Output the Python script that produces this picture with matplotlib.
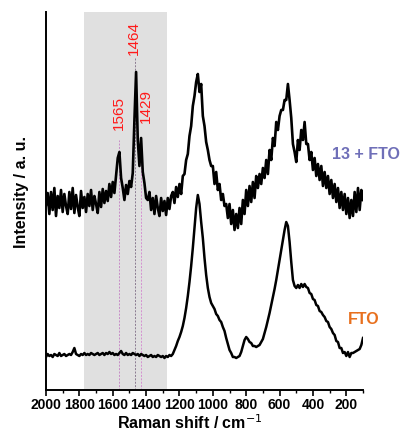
import numpy as np
import matplotlib
matplotlib.use("Agg")
import matplotlib.pyplot as plt

plt.rcParams['font.family'] = ['Liberation Sans', 'DejaVu Sans']

# Raman shift grid, cm-1 (2000 -> 100, step 10)
shift = np.arange(2000, 95, -10)

# 13 + FTO spectrum (arb. units)
sample = [
    185, 197, 176, 198, 180, 202, 174, 194, 182, 200,   # 2000-1910
    178, 196, 184, 176, 198, 181, 202, 177, 195, 183,   # 1900-1810
    174, 199, 182, 193, 178, 196, 184, 200, 180, 194,   # 1800-1710
    186, 177, 198, 183, 201, 187, 199, 189, 206, 193,   # 1700-1610
    208, 197, 215, 232, 238, 212, 202, 190, 205, 196,   # 1600-1510
    209, 203, 217, 270, 318, 250, 224, 252, 218, 207,   # 1500-1410
    192, 190, 198, 180, 192, 176, 194, 182, 174, 192,   # 1400-1310
    179, 189, 175, 192, 181, 194, 198, 187, 203, 193,   # 1300-1210
    206, 196, 214, 216, 230, 236, 254, 264, 284, 294,   # 1200-1110
    308, 316, 298, 306, 274, 264, 248, 240, 230, 224,   # 1100-1010
    224, 206, 218, 200, 206, 190, 196, 184, 186, 172,   # 1000-910
    186, 166, 180, 160, 176, 162, 182, 166, 190, 176,   # 900-810
    200, 184, 204, 188, 208, 192, 214, 202, 216, 206,   # 800-710
    222, 212, 230, 216, 240, 230, 252, 244, 268, 260,   # 700-610
    274, 280, 280, 290, 290, 306, 290, 272, 246, 238,   # 600-510
    228, 250, 240, 260, 250, 268, 246, 246, 230, 238,   # 500-410
    220, 232, 214, 226, 210, 224, 204, 218, 202, 214,   # 400-310
    196, 210, 192, 206, 188, 202, 182, 198, 180, 196,   # 300-210
    176, 192, 172, 190, 174, 198, 178, 202, 180, 200,   # 200-110
    190,                                                # 100
]

# bare FTO spectrum
fto = [
    33, 36, 34, 35, 33, 36, 35, 34, 37, 34,
    35, 36, 34, 35, 36, 35, 38, 42, 36, 35,
    34, 36, 35, 37, 35, 36, 35, 37, 36, 35,
    36, 37, 35, 36, 37, 35, 37, 36, 38, 36,
    37, 35, 36, 35, 37, 39, 36, 35, 37, 35,
    36, 35, 37, 36, 35, 36, 34, 36, 35, 34,
    35, 33, 34, 35, 33, 34, 33, 35, 34, 33,
    34, 32, 34, 33, 35, 34, 36, 40, 44, 49,
    53, 58, 64, 72, 82, 94, 108, 124, 142, 162,
    182, 195, 186, 168, 152, 132, 115, 102, 93, 87,
    84, 81, 76, 74, 70, 68, 63, 59, 52, 46,
    40, 37, 33, 33, 32, 33, 34, 38, 44, 50,
    53, 51, 48, 47, 44, 44, 43, 44, 45, 48,
    51, 57, 63, 70, 77, 85, 93, 101, 110, 120,
    130, 140, 150, 160, 168, 164, 148, 128, 110, 104,
    102, 105, 102, 106, 103, 106, 103, 102, 97, 96,
    91, 90, 85, 84, 79, 78, 75, 73, 69, 68,
    63, 61, 57, 55, 49, 48, 42, 42, 37, 38,
    34, 38, 33, 37, 37, 38, 39, 40, 41, 45,
    52,
]

peaks = [1565, 1464, 1429]
peak_top = [250, 332, 248]          # where the guide line starts
peak_colors = ['#c78bc7', '#8a7a90', '#d490d0']
label_x = [1562, 1472, 1400]
label_y = [277, 352, 284]

fig = plt.figure(figsize=(4, 4.33), dpi=100)
ax = fig.add_axes([0.115, 0.0993, 0.7925, 0.873])

ax.axvspan(1770, 1275, color='#e0e0e0', lw=0, zorder=0)

for p, top, c in zip(peaks, peak_top, peak_colors):
    ax.plot([p, p], [0, top], ls=(0, (2, 1.5)), lw=0.7, color=c, zorder=1)

ax.plot(shift, fto, color='k', lw=1.8, zorder=2)
ax.plot(shift, sample, color='k', lw=1.9, zorder=2)

for p, lx, ly in zip(peaks, label_x, label_y):
    ax.text(lx, ly, str(p), rotation=90, color='#ff1a1a', fontsize=11,
            ha='center', va='center')

ax.text(80, 235, '13 + FTO', color='#6f6fb8', fontsize=11.5, fontweight='bold',
        ha='center', va='center')
ax.text(98, 71, 'FTO', color='#e8701e', fontsize=11.5, fontweight='bold',
        ha='center', va='center')

ax.set_xlim(2000, 100)
ax.set_ylim(0, 378)
ax.set_xticks(np.arange(2000, 199, -200))
ax.set_xticks(np.arange(1900, 99, -200), minor=True)
ax.set_yticks([])
for s in ['top', 'right']:
    ax.spines[s].set_visible(False)
for s in ['left', 'bottom']:
    ax.spines[s].set_linewidth(1.4)
ax.tick_params(axis='x', which='major', length=4, width=1.2, labelsize=10, pad=2)
ax.tick_params(axis='x', which='minor', length=2.5, width=1.0)
for t in ax.get_xticklabels():
    t.set_fontweight('bold')

ax.set_xlabel('Raman shift / cm$^{-1}$', fontsize=11.5, fontweight='bold')
ax.xaxis.set_label_coords(0.455, -0.062)
ax.set_ylabel('Intensity / a. u.', fontsize=11.5, fontweight='bold')
ax.yaxis.set_label_coords(-0.055, 0.524)

fig.savefig('out.png', dpi=100)
